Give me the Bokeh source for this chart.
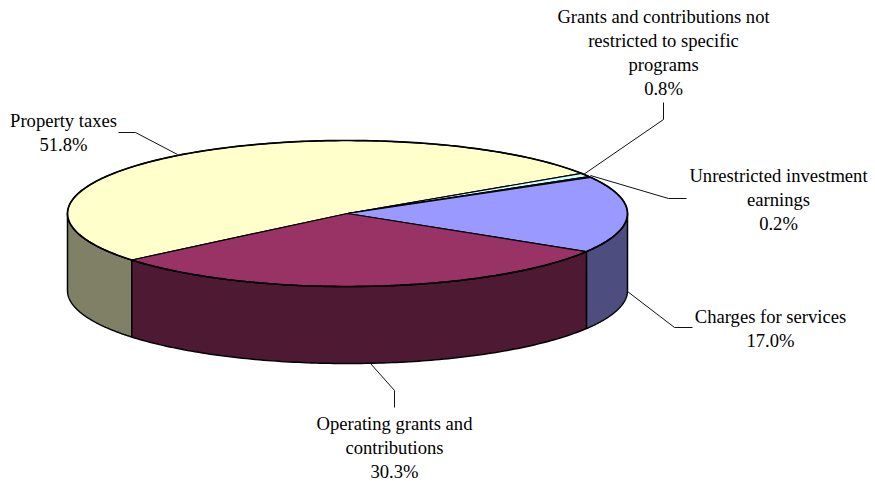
import numpy as np
from bokeh.plotting import figure
from bokeh.models import Range1d
from bokeh.core.properties import value
from bokeh.embed import file_html
from bokeh.resources import INLINE

# Revenue shares, in drawing order (clockwise)
categories = ["Property taxes", "Grants and contributions not restricted to specific programs",
              "Unrestricted investment earnings", "Charges for services",
              "Operating grants and contributions"]
shares = [51.8, 0.8, 0.2, 17.0, 30.3]
top_colors = ["#FFFFCC", "#CCFFFF", "#660066", "#9999FF", "#993366"]
side_colors = ["#808066", "#668080", "#330033", "#4D4D80", "#4D1933"]
label_lines = [["Property taxes", "51.8%"],
               ["Grants and contributions not", "restricted to specific", "programs", "0.8%"],
               ["Unrestricted investment", "earnings", "0.2%"],
               ["Charges for services", "17.0%"],
               ["Operating grants and", "contributions", "30.3%"]]
label_anchor = [(63, 119.5), (663, 15.5), (778, 174.5), (770, 315.5), (394, 422.5)]
leaders = [[(118, 132), (135, 132), (177, 154)],
           [(663, 102), (663, 119), (583, 174)],
           [(686, 198), (668, 198), (590, 175)],
           [(692, 327), (674, 327), (627, 291)],
           [(394, 407), (394, 390), (370, 363)]]

CX, CY, RX, RY, DEPTH = 347, 213, 280, 73, 77
START = 219.6
LINE_H = 24

p = figure(width=875, height=481, output_backend="svg", toolbar_location=None,
           x_range=Range1d(0, 875), y_range=Range1d(481, 0), min_border=0)
p.axis.visible = False
p.grid.visible = False
p.outline_line_color = None


def rim(a0, a1, n=120):
    t = np.radians(np.linspace(a0, a1, n))
    return CX + RX * np.cos(t), CY - RY * np.sin(t)


# Slice boundaries, going clockwise from the start angle
sweep = np.array(shares) / sum(shares) * 360
ends = START - np.cumsum(sweep)
begins = ends + sweep

# Outer walls: only the part of each slice on the near half of the rim shows
for a0, a1, col in zip(begins, ends, side_colors):
    for shift in (0, -360):
        lo, hi = max(a1 + shift + 360, 180), min(a0 + shift + 360, 360)
        if hi > lo:
            x, y = rim(lo, hi)
            p.patch(np.r_[x, x[::-1]], np.r_[y, y[::-1] + DEPTH],
                    fill_color=col, line_color="black", line_width=1.5)

# Top faces
for a0, a1, col in zip(begins, ends, top_colors):
    x, y = rim(a0, a1)
    p.patch(np.r_[CX, x], np.r_[CY, y], fill_color=col, line_color="black", line_width=1.2)

# Heavier outline around the top face
x, y = rim(0, 360, 360)
p.line(x, y, line_color="black", line_width=1.7)

# Leader lines
for pts in leaders:
    xs, ys = zip(*pts)
    p.line(xs, ys, line_color="#111111", line_width=1)

# Data labels, centred on their anchors
for lines, (ax, ay) in zip(label_lines, label_anchor):
    ys = [ay + i * LINE_H for i in range(len(lines))]
    p.text([ax] * len(lines), ys, text=lines, text_font=value("Liberation Serif"),
           text_font_size="18.6px", text_color="black", text_align="center", text_baseline="middle")

open("out.html", "w").write(file_html(p, INLINE))
